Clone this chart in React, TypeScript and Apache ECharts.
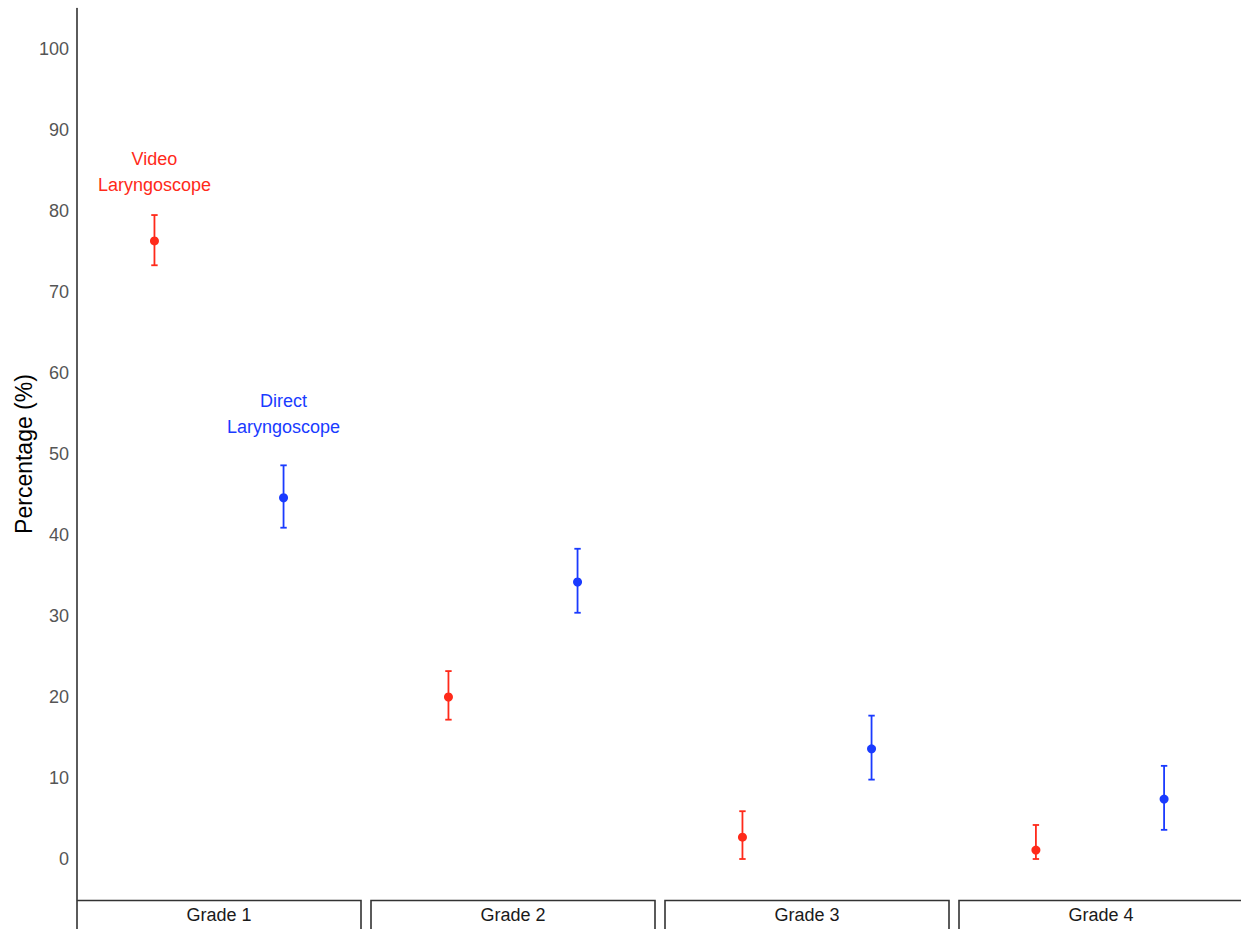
import React, { useEffect, useRef } from "react";
import * as echarts from "echarts";

// Intubation grade distribution by laryngoscope type, with 95% CIs
const grades = ["Grade 1", "Grade 2", "Grade 3", "Grade 4"];
const devices = ["Video Laryngoscope", "Direct Laryngoscope"];
const deviceLabels = ["Video\nLaryngoscope", "Direct\nLaryngoscope"];
const deviceColors = ["#FF2A1A", "#1A3BFF"];

// percentage, lower CI, upper CI per grade
const videoPct = [76.3, 20.0, 2.7, 1.1];
const videoLow = [73.3, 17.2, 0.0, 0.0];
const videoHigh = [79.5, 23.2, 5.9, 4.2];
const directPct = [44.6, 34.2, 13.6, 7.4];
const directLow = [40.9, 30.4, 9.8, 3.6];
const directHigh = [48.6, 38.3, 17.7, 11.5];

// annotation placement (grade 1 panel only)
const labelY = [84.8, 54.9];

const yTicks = [0, 10, 20, 30, 40, 50, 60, 70, 80, 90, 100];

const FONT = "Liberation Sans, Arial, Helvetica, sans-serif";

const PANEL_LEFT = 77;
const PANEL_W = 284;
const PANEL_GAP = 10;
const PANEL_TOP = 8.5;
const PANEL_H = 891;

export default function App() {
  const ref = useRef<HTMLDivElement>(null);

  useEffect(() => {
    if (!ref.current) return;
    const chart = echarts.init(ref.current, undefined, { renderer: "svg" });

    const grids: any[] = [];
    const xAxes: any[] = [];
    const yAxes: any[] = [];
    const series: any[] = [];
    const graphics: any[] = [];

    const pct = [videoPct, directPct];
    const low = [videoLow, directLow];
    const high = [videoHigh, directHigh];

    grades.forEach((g, i) => {
      const left = PANEL_LEFT + i * (PANEL_W + PANEL_GAP);
      grids.push({ left, top: PANEL_TOP, width: PANEL_W, height: PANEL_H, containLabel: false });
      xAxes.push({
        gridIndex: i,
        type: "value",
        min: 0.4,
        max: 2.6,
        show: false,
      });
      yAxes.push({
        gridIndex: i,
        type: "value",
        min: -5,
        max: 105,
        show: i === 0,
        name: i === 0 ? "Percentage (%)" : "",
        nameLocation: "middle",
        nameGap: 40,
        nameTextStyle: { color: "#000", fontSize: 23, fontFamily: FONT },
        axisLine: { show: i === 0, lineStyle: { color: "#333", width: 1.6 } },
        axisTick: { show: false },
        splitLine: { show: false },
        axisLabel: {
          show: i === 0,
          customValues: yTicks,
          color: "#555",
          fontSize: 18,
          fontFamily: FONT,
          margin: 8,
        },
      });

      devices.forEach((d, k) => {
        const xPos = k + 1;
        // error bars
        series.push({
          type: "custom",
          name: d,
          xAxisIndex: i,
          yAxisIndex: i,
          data: [[xPos, low[k][i], high[k][i]]],
          renderItem: (params: any, api: any) => {
            const x = api.value(0);
            const lo = api.coord([x, api.value(1)]);
            const hi = api.coord([x, api.value(2)]);
            const cap = 3.2;
            const style = { stroke: deviceColors[k], lineWidth: 1.8 };
            return {
              type: "group",
              children: [
                { type: "line", shape: { x1: lo[0], y1: lo[1], x2: hi[0], y2: hi[1] }, style },
                { type: "line", shape: { x1: lo[0] - cap, y1: lo[1], x2: lo[0] + cap, y2: lo[1] }, style },
                { type: "line", shape: { x1: hi[0] - cap, y1: hi[1], x2: hi[0] + cap, y2: hi[1] }, style },
              ],
            };
          },
          z: 2,
        });
        // point estimates
        series.push({
          type: "scatter",
          name: d,
          xAxisIndex: i,
          yAxisIndex: i,
          symbol: "circle",
          symbolSize: 9,
          itemStyle: { color: deviceColors[k], opacity: 1 },
          data: [[xPos, pct[k][i]]],
          z: 3,
        });
      });

      // facet strip below each panel
      graphics.push({
        type: "rect",
        shape: { x: left, y: 900.5, width: PANEL_W, height: 40 },
        style: { fill: "#fff", stroke: "#333", lineWidth: 1.6 },
      });
      graphics.push({
        type: "text",
        x: left + PANEL_W / 2,
        y: 915,
        style: {
          text: g,
          fill: "#1a1a1a",
          fontSize: 18,
          fontFamily: FONT,
          align: "center",
          verticalAlign: "middle",
        },
      });
    });

    // device annotations in first panel
    series.push({
      type: "scatter",
      xAxisIndex: 0,
      yAxisIndex: 0,
      symbolSize: 0,
      silent: true,
      itemStyle: { opacity: 1 },
      data: deviceLabels.map((t, k) => ({
        value: [k + 1, labelY[k]],
        label: {
          show: true,
          position: "inside",
          formatter: t,
          color: deviceColors[k],
          opacity: 1,
          fontSize: 18,
          lineHeight: 26,
          fontFamily: FONT,
          align: "center",
          verticalAlign: "middle",
        },
      })),
      z: 4,
    });

    chart.setOption({
      animation: false,
      backgroundColor: "#fff",
      grid: grids,
      xAxis: xAxes,
      yAxis: yAxes,
      series,
      graphic: graphics,
    });

    return () => chart.dispose();
  }, []);

  return (
    <div
      ref={ref}
      style={{ position: "absolute", left: 0, top: 0, width: 1241, height: 929 }}
    />
  );
}
